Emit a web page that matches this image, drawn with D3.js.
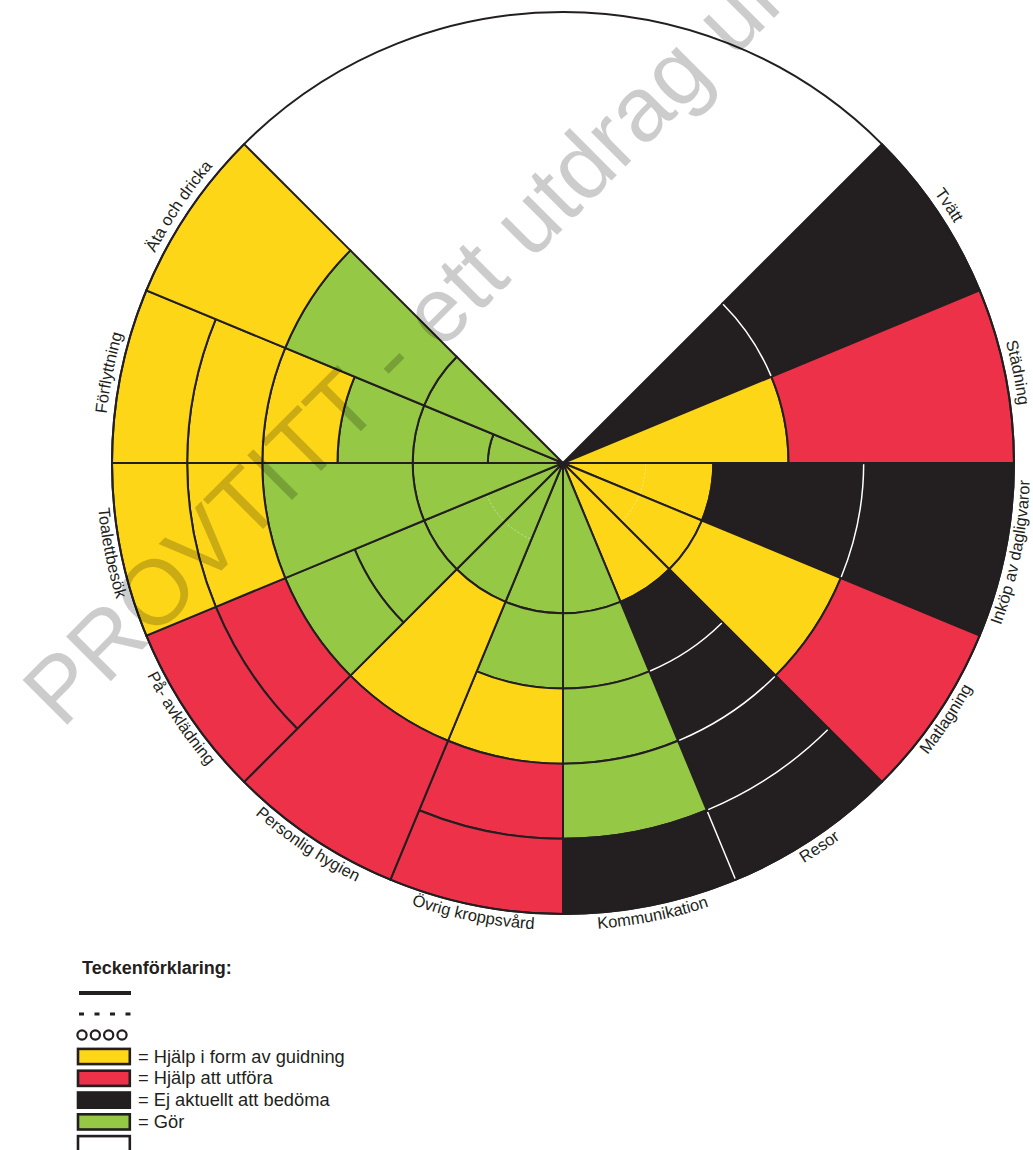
<!DOCTYPE html>
<html>
<head>
<meta charset="utf-8">
<script src="https://cdn.jsdelivr.net/npm/d3@7"></script>
<style>
  body { margin: 0; background: #fff; }
  svg { display: block; }
</style>
</head>
<body>
<script>
// Categories, clockwise starting at the upper right edge of the empty quarter
const categories = [
  "Tvätt", "Städning", "Inköp av dagligvaror", "Matlagning", "Resor", "Kommunikation",
  "Övrig kroppsvård", "Personlig hygien", "På- avklädning", "Toalettbesök", "Förflyttning", "Äta och dricka"
];

// level (0-6) where each block of a category ends
const segmentEnds = [
  [3, 6],
  [3, 6],
  [2, 4, 6],
  [2, 4, 6],
  [2, 3, 4, 5, 6],
  [2, 3, 4, 5, 6],
  [2, 3, 4, 5, 6],
  [2, 4, 6],
  [2, 3, 4, 5, 6],
  [2, 4, 5, 6],
  [1, 2, 3, 4, 5, 6],
  [2, 4, 6]
];

// assessment of each block
const segmentCodes = [
  ["ej", "ej"],
  ["guid", "utf"],
  ["guid", "ej", "ej"],
  ["guid", "guid", "utf"],
  ["guid", "ej", "ej", "ej", "ej"],
  ["gor", "gor", "gor", "gor", "ej"],
  ["gor", "gor", "guid", "utf", "utf"],
  ["gor", "guid", "utf"],
  ["gor", "gor", "gor", "utf", "utf"],
  ["gor", "gor", "guid", "guid"],
  ["gor", "gor", "gor", "guid", "guid", "guid"],
  ["gor", "gor", "guid"]
];

// faint dotted arcs on the first level
const faintArcs = ["Inköp av dagligvaror", "Matlagning", "Personlig hygien", "På- avklädning"];

const legendKeys = ["guid", "utf", "ej", "gor", "blank"];
const legendLabels = ["= Hjälp i form av guidning", "= Hjälp att utföra", "= Ej aktuellt att bedöma", "= Gör", ""];
const legendLines = ["solid", "dashed", "circles"];

const colors = {
  guid: "#fdd618",
  utf: "#ec3149",
  ej: "#231f20",
  gor: "#95c945",
  blank: "#ffffff"
};

const width = 1033, height = 1150;
const cx = 563, cy = 463;
const outerR = 451;
const font = "'Liberation Sans', Arial, Helvetica, sans-serif";
const ink = "#231f20";

const svg = d3.select("body")
  .append("svg")
  .attr("width", width)
  .attr("height", height)
  .style("background-color", "#fff");

const defs = svg.append("defs");

const angle = d3.scaleBand()
  .domain(categories)
  .range([Math.PI / 4, 2 * Math.PI - Math.PI / 4])
  .padding(0);

const radius = d3.scaleLinear()
  .domain([0, 6])
  .range([0, outerR]);

// flatten to blocks
const blocks = [];
categories.forEach((cat, i) => {
  let start = 0;
  segmentEnds[i].forEach((end, j) => {
    blocks.push({ cat: cat, i: i, start: start, end: end, code: segmentCodes[i][j] });
    start = end;
  });
});

function codeAt(i, level) {
  const ends = segmentEnds[i];
  for (let j = 0; j < ends.length; j++) {
    if (level < ends[j]) return segmentCodes[i][j];
  }
  return null;
}

const chart = svg.append("g").attr("transform", `translate(${cx},${cy})`);

// white disc behind
chart.append("circle")
  .attr("r", outerR)
  .attr("fill", "#fff");

const arc = d3.arc()
  .innerRadius(d => radius(d.start))
  .outerRadius(d => radius(d.end))
  .startAngle(d => angle(d.cat))
  .endAngle(d => angle(d.cat) + angle.bandwidth());

chart.selectAll("path.block")
  .data(blocks)
  .enter()
  .append("path")
  .attr("class", "block")
  .attr("d", arc)
  .attr("fill", d => colors[d.code])
  .attr("stroke", ink)
  .attr("stroke-width", 2);

// arc helper, angles measured clockwise from 12 o'clock
function arcLine(r, a0, a1, ccw) {
  const p = d3.path();
  p.arc(0, 0, r, a0 - Math.PI / 2, a1 - Math.PI / 2, !!ccw);
  return p.toString();
}

// white separators where two black blocks meet
const whiteArcs = [];
categories.forEach((cat, i) => {
  const ends = segmentEnds[i];
  for (let j = 0; j < ends.length - 1; j++) {
    if (segmentCodes[i][j] === "ej" && segmentCodes[i][j + 1] === "ej") {
      whiteArcs.push({ cat: cat, level: ends[j] });
    }
  }
});

chart.selectAll("path.sep-arc")
  .data(whiteArcs)
  .enter()
  .append("path")
  .attr("class", "sep-arc")
  .attr("d", d => arcLine(radius(d.level), angle(d.cat) + 0.004, angle(d.cat) + angle.bandwidth() - 0.004))
  .attr("fill", "none")
  .attr("stroke", "#fff")
  .attr("stroke-width", 1.5);

const whiteRadials = [];
for (let i = 0; i < categories.length - 1; i++) {
  for (let l = 0; l < 6; l++) {
    if (codeAt(i, l + 0.5) === "ej" && codeAt(i + 1, l + 0.5) === "ej") {
      whiteRadials.push({ a: angle(categories[i + 1]), r0: radius(l), r1: radius(l + 1) });
    }
  }
}

chart.selectAll("line.sep-radial")
  .data(whiteRadials)
  .enter()
  .append("line")
  .attr("class", "sep-radial")
  .attr("x1", d => Math.sin(d.a) * (d.r0 + 2))
  .attr("y1", d => -Math.cos(d.a) * (d.r0 + 2))
  .attr("x2", d => Math.sin(d.a) * (d.r1 - 1))
  .attr("y2", d => -Math.cos(d.a) * (d.r1 - 1))
  .attr("stroke", "#fff")
  .attr("stroke-width", 1.5);

// faint dotted arcs
chart.selectAll("path.faint")
  .data(faintArcs)
  .enter()
  .append("path")
  .attr("class", "faint")
  .attr("d", d => arcLine(radius(1.1), angle(d) + 0.02, angle(d) + angle.bandwidth() - 0.02))
  .attr("fill", "none")
  .attr("stroke", "#fff")
  .attr("stroke-opacity", 0.55)
  .attr("stroke-width", 0.8)
  .attr("stroke-dasharray", "2,2");

// outer ring
chart.append("circle")
  .attr("r", outerR)
  .attr("fill", "none")
  .attr("stroke", ink)
  .attr("stroke-width", 2);

// category labels curved along the rim
categories.forEach((cat, i) => {
  const mid = angle(cat) + angle.bandwidth() / 2;
  const flipped = mid > Math.PI / 2 && mid < Math.PI * 1.5;
  const d = flipped
    ? arcLine(outerR + 16, mid + 0.9, mid - 0.9, true)
    : arcLine(outerR + 8, mid - 0.9, mid + 0.9, false);
  defs.append("path")
    .attr("id", "lbl" + i)
    .attr("d", d);
});

chart.selectAll("text.cat")
  .data(categories)
  .enter()
  .append("text")
  .attr("class", "cat")
  .style("font-family", font)
  .style("font-size", "16.5px")
  .attr("fill", ink)
  .append("textPath")
  .attr("href", (d, i) => "#lbl" + i)
  .attr("startOffset", "50%")
  .attr("text-anchor", "middle")
  .text(d => d);

// watermark
svg.append("text")
  .attr("transform", "translate(62,730) rotate(-45)")
  .style("font-family", font)
  .style("font-size", "92px")
  .attr("fill", "#000")
  .attr("fill-opacity", 0.2)
  .text("PROVTITT - ett utdrag ur");

// legend
const legend = svg.append("g");

legend.append("text")
  .attr("x", 82)
  .attr("y", 974)
  .style("font-family", font)
  .style("font-size", "18px")
  .style("font-weight", "bold")
  .attr("fill", ink)
  .text("Teckenförklaring:");

const lineY = d3.scaleLinear().domain([0, 2]).range([993, 1035]);

legendLines.forEach((style, k) => {
  const y = lineY(k);
  if (style === "circles") {
    const cxScale = d3.scaleLinear().domain([0, 3]).range([82, 122]);
    legend.selectAll("circle.dot")
      .data(d3.range(4))
      .enter()
      .append("circle")
      .attr("class", "dot")
      .attr("cx", d => cxScale(d))
      .attr("cy", y)
      .attr("r", 4.6)
      .attr("fill", "#fff")
      .attr("stroke", ink)
      .attr("stroke-width", 2.2);
  } else {
    legend.append("line")
      .attr("x1", 79)
      .attr("x2", 131)
      .attr("y1", y)
      .attr("y2", y)
      .attr("stroke", ink)
      .attr("stroke-width", style === "solid" ? 3.8 : 3)
      .attr("stroke-dasharray", style === "dashed" ? "5,10.5" : null);
  }
});

const rowY = d3.scaleLinear().domain([0, 1]).range([1056.5, 1078.3]);

const rows = legend.selectAll("g.row")
  .data(legendKeys)
  .enter()
  .append("g")
  .attr("class", "row")
  .attr("transform", (d, i) => `translate(0,${rowY(i)})`);

rows.append("rect")
  .attr("x", 78)
  .attr("y", -7.6)
  .attr("width", 51.8)
  .attr("height", 15.2)
  .attr("fill", d => colors[d])
  .attr("stroke", ink)
  .attr("stroke-width", 2.6);

rows.append("text")
  .attr("x", 138)
  .attr("y", 6)
  .style("font-family", font)
  .style("font-size", "18.3px")
  .attr("fill", ink)
  .text((d, i) => legendLabels[i]);
</script>
</body>
</html>
